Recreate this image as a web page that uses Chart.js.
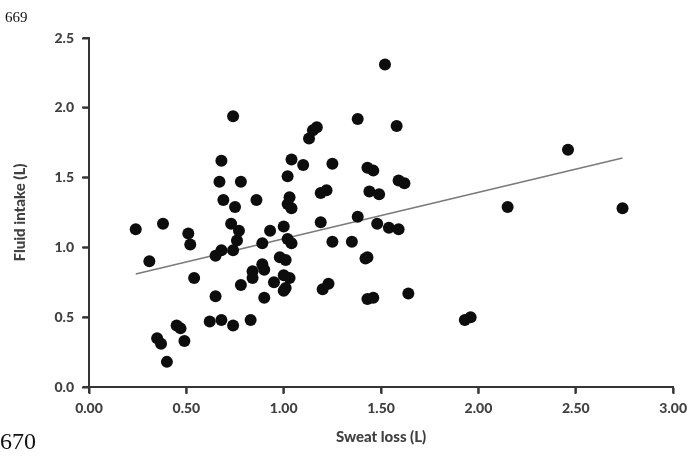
<!DOCTYPE html>
<html>
<head>
<meta charset="utf-8">
<script src="https://cdn.jsdelivr.net/npm/chart.js@4.4.1/dist/chart.umd.min.js"></script>
<style>
  body { margin: 0; background: #fff; }
  #wrap { position: relative; width: 693px; height: 457px; }
  #c { position: absolute; left: 0; top: 0; }
  .lineno { position: absolute; font-family: "Liberation Serif", "DejaVu Serif", serif; color: #111; }
</style>
</head>
<body>
<div id="wrap">
  <canvas id="c" width="693" height="457"></canvas>
  <div class="lineno" style="left:5px; top:9px; font-size:15px;">669</div>
  <div class="lineno" style="left:0px; top:428px; font-size:24px;">670</div>
</div>
<script>
// sweat loss (L) vs fluid intake (L)
var sweatLoss = [
  0.24, 0.38, 0.31, 0.51, 0.52, 0.54, 0.35, 0.37, 0.40, 0.45,
  0.47, 0.49, 0.62, 0.68, 0.74, 0.83, 0.65, 0.65, 0.68, 0.74,
  0.76, 0.77, 0.73, 0.67, 0.68, 0.74, 0.78, 0.69, 0.75, 0.86,
  0.78, 0.84, 0.84, 0.89, 0.90, 0.90, 0.89, 0.93, 0.95, 0.98,
  1.01, 1.00, 1.03, 1.00, 1.01, 1.00, 1.02, 1.04, 1.02, 1.04,
  1.03, 1.02, 1.04, 1.10, 1.13, 1.15, 1.17, 1.19, 1.22, 1.19,
  1.25, 1.25, 1.20, 1.23, 1.38, 1.38, 1.35, 1.43, 1.46, 1.44,
  1.49, 1.48, 1.52, 1.58, 1.59, 1.62, 1.54, 1.59, 1.43, 1.42,
  1.43, 1.46, 1.64, 1.93, 1.96, 2.15, 2.46, 2.74
];
var fluidIntake = [
  1.13, 1.17, 0.90, 1.10, 1.02, 0.78, 0.35, 0.31, 0.18, 0.44,
  0.42, 0.33, 0.47, 0.48, 0.44, 0.48, 0.65, 0.94, 0.98, 0.98,
  1.05, 1.12, 1.17, 1.47, 1.62, 1.94, 1.47, 1.34, 1.29, 1.34,
  0.73, 0.78, 0.83, 0.88, 0.84, 0.64, 1.03, 1.12, 0.75, 0.93,
  0.91, 0.80, 0.78, 0.69, 0.71, 1.15, 1.06, 1.03, 1.31, 1.28,
  1.36, 1.51, 1.63, 1.59, 1.78, 1.84, 1.86, 1.39, 1.41, 1.18,
  1.60, 1.04, 0.70, 0.74, 1.92, 1.22, 1.04, 1.57, 1.55, 1.40,
  1.38, 1.17, 2.31, 1.87, 1.48, 1.46, 1.14, 1.13, 0.93, 0.92,
  0.63, 0.64, 0.67, 0.48, 0.50, 1.29, 1.70, 1.28
];
// linear trend line end points
var trendX = [0.24, 2.74];
var trendY = [0.81, 1.64];

var xTicks = ["0.00", "0.50", "1.00", "1.50", "2.00", "2.50", "3.00"];
var yTicks = ["0.0", "0.5", "1.0", "1.5", "2.0", "2.5"];

var points = [];
for (let i = 0; i < sweatLoss.length; i++) {
  points.push({ x: sweatLoss[i], y: fluidIntake[i] });
}
var trend = [];
for (let i = 0; i < trendX.length; i++) {
  trend.push({ x: trendX[i], y: trendY[i] });
}

var axisColor = "#353535";
var textColor = "#404040";
var fontFamily = "Lato, 'Open Sans', sans-serif";
var labelFont = { family: fontFamily, size: 14, weight: "900" };
var titleFont = { family: fontFamily, size: 15, weight: "900" };

// axis lines and tick marks, drawn from the scales themselves
var axesPlugin = {
  id: "axes",
  afterDatasetsDraw: function (chart) {
    var c = chart.ctx;
    var xs = chart.scales.x;
    var ys = chart.scales.y;
    var left = chart.chartArea.left;
    var bottom = chart.chartArea.bottom;
    c.save();
    c.strokeStyle = axisColor;
    c.lineWidth = 2;
    c.beginPath();
    c.moveTo(left, ys.getPixelForValue(2.5) - 1);
    c.lineTo(left, bottom);
    c.lineTo(xs.getPixelForValue(3), bottom);
    xTicks.forEach(function (t) {
      var px = xs.getPixelForValue(parseFloat(t));
      c.moveTo(px, bottom);
      c.lineTo(px, bottom + 6);
    });
    yTicks.forEach(function (t) {
      var py = ys.getPixelForValue(parseFloat(t));
      c.moveTo(left - 6, py);
      c.lineTo(left, py);
    });
    c.stroke();
    c.restore();
  },
};

var ctx = document.getElementById("c").getContext("2d");
var chart = new Chart(ctx, {
  type: "scatter",
  data: {
    datasets: [
      {
        label: "Fluid intake",
        data: points,
        backgroundColor: "#0d0d0d",
        borderWidth: 0,
        pointRadius: 6,
        pointHoverRadius: 6,
        order: 1,
      },
      {
        label: "Trend",
        data: trend,
        showLine: true,
        borderColor: "#7a7a7a",
        borderWidth: 1.6,
        pointRadius: 0,
        order: 2,
      },
    ],
  },
  plugins: [axesPlugin],
  options: {
    responsive: false,
    animation: false,
    layout: { padding: { left: 0, right: 19, top: 38, bottom: 0 } },
    plugins: { legend: { display: false }, tooltip: { enabled: false } },
    scales: {
      x: {
        type: "linear",
        min: 0,
        max: 3,
        afterBuildTicks: function (scale) {
          scale.ticks = xTicks.map(function (t) { return { value: parseFloat(t) }; });
        },
        ticks: {
          color: textColor,
          font: labelFont,
          padding: 6,
          callback: function (v) { return v.toFixed(2); },
        },
        grid: { display: true, drawOnChartArea: false, drawTicks: true, tickLength: 7, tickColor: axisColor, tickWidth: 2 },
        border: { display: true, color: axisColor, width: 2 },
        title: { display: true, text: "Sweat loss (L)", color: textColor, font: titleFont, padding: { top: 0, bottom: 11 } },
        afterFit: function (scale) { scale.height = 70; },
      },
      y: {
        type: "linear",
        min: 0,
        max: 2.5,
        afterBuildTicks: function (scale) {
          scale.ticks = yTicks.map(function (t) { return { value: parseFloat(t) }; });
        },
        ticks: {
          color: textColor,
          font: labelFont,
          padding: 8,
          callback: function (v) { return v.toFixed(1); },
        },
        grid: { display: true, drawOnChartArea: false, drawTicks: true, tickLength: 7, tickColor: axisColor, tickWidth: 2 },
        border: { display: true, color: axisColor, width: 2 },
        title: { display: true, text: "Fluid intake (L)", color: textColor, font: titleFont, padding: { top: 11, bottom: 0 } },
        afterFit: function (scale) { scale.width = 89; },
      },
    },
  },
});
</script>
</body>
</html>
